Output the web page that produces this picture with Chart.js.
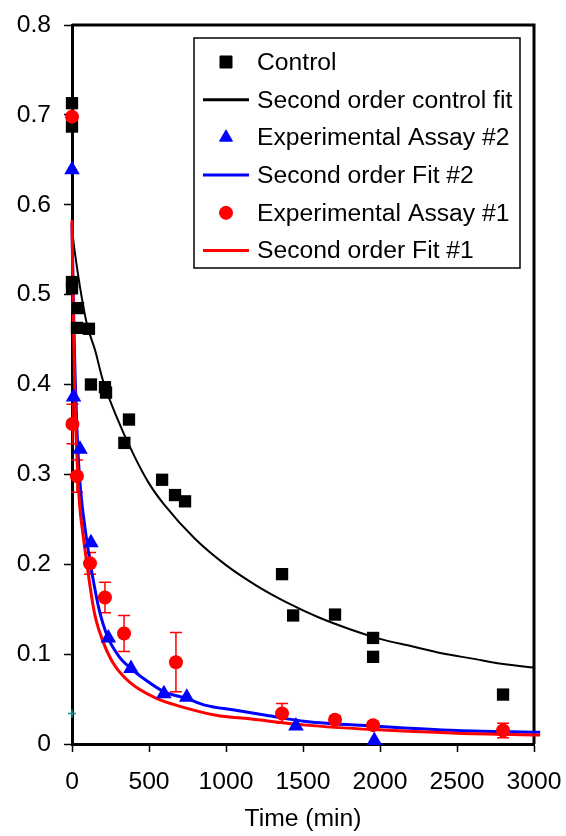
<!DOCTYPE html>
<html lang="en">
<head>
<meta charset="UTF-8">
<title>Second order fits</title>
<script src="https://cdn.jsdelivr.net/npm/chart.js"></script>
<style>
    html, body { margin: 0; padding: 0; background: #fff; }
    #wrap { position: relative; width: 566px; height: 836px; }
</style>
</head>
<body>
<div id="wrap"><canvas id="chart" width="566" height="836"></canvas></div>
<script>
// values
const xTicks = [0, 500, 1000, 1500, 2000, 2500, 3000];
const xTickLabels = ['0', '500', '1000', '1500', '2000', '2500', '3000'];
const yTicks = [0, 0.1, 0.2, 0.3, 0.4, 0.5, 0.6, 0.7, 0.8];
const yTickLabels = ['0', '0.1', '0.2', '0.3', '0.4', '0.5', '0.6', '0.7', '0.8'];

const controlX = [0, 0, 0, 0, 39, 32, 110, 123, 214, 221, 370, 340, 585, 669, 734, 1364, 1436, 1708, 1955, 1955, 2799];
const controlY = [0.713, 0.687, 0.514, 0.507, 0.485, 0.463, 0.462, 0.400, 0.397, 0.391, 0.361, 0.335, 0.294, 0.277, 0.270, 0.189, 0.143, 0.144, 0.118, 0.097, 0.055];

const controlFitX = [0, 20, 65, 100, 150, 200, 280, 400, 500, 600, 800, 1000, 1200, 1400, 1600, 1800, 2000, 2200, 2400, 2600, 2800, 3000, 3050];
const controlFitY = [0.572, 0.545, 0.495, 0.465, 0.438, 0.405, 0.368, 0.322, 0.290, 0.266, 0.228, 0.199, 0.176, 0.157, 0.141, 0.128, 0.117, 0.109, 0.101, 0.095, 0.089, 0.085, 0.084];

const assay2X = [0, 10, 52, 123, 236, 383, 597, 745, 1454, 1963];
const assay2Y = [0.639, 0.386, 0.328, 0.224, 0.118, 0.084, 0.056, 0.052, 0.020, 0.004];

const fit2X = [0, 10, 20, 32, 52, 97, 134, 177, 232, 307, 383, 481, 600, 740, 870, 1043, 1260, 1520, 1955, 2500, 3040];
const fit2Y = [0.58, 0.48, 0.41, 0.35, 0.29, 0.225, 0.186, 0.149, 0.119, 0.097, 0.084, 0.071, 0.058, 0.051, 0.043, 0.038, 0.032, 0.025, 0.020, 0.015, 0.013];

const assay1X = [0, 3, 32, 117, 214, 338, 675, 1364, 1708, 1955, 2799];
const assay1Y = [0.698, 0.356, 0.298, 0.201, 0.163, 0.123, 0.091, 0.034, 0.027, 0.021, 0.015];
const assay1Err = [0.015, 0.022, 0.018, 0.012, 0.017, 0.020, 0.033, 0.011, 0.004, 0.003, 0.008];

const fit1X = [0, 10, 20, 32, 50, 70, 97, 134, 156, 199, 264, 372, 545, 719, 935, 1151, 1520, 1955, 2500, 3040];
const fit1Y = [0.583, 0.46, 0.38, 0.32, 0.265, 0.235, 0.20, 0.157, 0.138, 0.115, 0.091, 0.069, 0.051, 0.041, 0.032, 0.028, 0.021, 0.016, 0.012, 0.010];

const strayX = [0];
const strayY = [0.034];

function pts(xs, ys) {
    return xs.map((x, i) => ({ x: x, y: ys[i] }));
}

const FONT = 'Liberation Sans, Arial, sans-serif';

// error bars for assay #1, drawn with the chart's own scales
const errorBars = {
    id: 'errorBars',
    beforeDatasetsDraw(chart) {
        const ctx = chart.ctx, xs = chart.scales.x, ys = chart.scales.y;
        ctx.save();
        ctx.strokeStyle = '#ff0000';
        ctx.lineWidth = 1.5;
        assay1X.forEach((x, i) => {
            const px = xs.getPixelForValue(x);
            const top = ys.getPixelForValue(assay1Y[i] + assay1Err[i]);
            const bot = ys.getPixelForValue(assay1Y[i] - assay1Err[i]);
            ctx.beginPath();
            ctx.moveTo(px, top); ctx.lineTo(px, bot);
            ctx.moveTo(px - 6, top); ctx.lineTo(px + 6, top);
            ctx.moveTo(px - 6, bot); ctx.lineTo(px + 6, bot);
            ctx.stroke();
        });
        ctx.restore();
    }
};

// top and right edges of the plot box
const frame = {
    id: 'frame',
    beforeDatasetsDraw(chart) {
        const a = chart.chartArea, ctx = chart.ctx;
        ctx.save();
        ctx.strokeStyle = '#000';
        ctx.lineWidth = 3;
        ctx.beginPath();
        ctx.moveTo(a.left, a.top);
        ctx.lineTo(a.right, a.top);
        ctx.lineTo(a.right, a.bottom);
        ctx.stroke();
        ctx.restore();
    }
};

// boxed legend inside the plot, like the original
const legendOrder = [3, 0, 4, 1, 5, 2];
const boxLegend = {
    id: 'boxLegend',
    afterDraw(chart) {
        const ctx = chart.ctx;
        const bx = 194, by = 38, bw = 326, bh = 230;
        ctx.save();
        ctx.fillStyle = '#fff';
        ctx.fillRect(bx, by, bw, bh);
        ctx.strokeStyle = '#000';
        ctx.lineWidth = 1.5;
        ctx.strokeRect(bx, by, bw, bh);
        ctx.font = '24.7px ' + FONT;
        ctx.textBaseline = 'middle';
        legendOrder.forEach((di, row) => {
            const ds = chart.data.datasets[di];
            const y = 62 + row * 37.7;
            if (ds.showLine) {
                ctx.strokeStyle = ds.borderColor;
                ctx.lineWidth = 3;
                ctx.beginPath();
                ctx.moveTo(203, y); ctx.lineTo(249, y);
                ctx.stroke();
            } else {
                ctx.fillStyle = ds.backgroundColor;
                ctx.strokeStyle = ds.borderColor;
                ctx.lineWidth = 1;
                Chart.helpers.drawPoint(ctx, { pointStyle: ds.pointStyle, radius: ds.legendRadius, borderWidth: 1 }, 226, y);
            }
            ctx.fillStyle = '#000';
            ctx.fillText(ds.label, 257, y + 1);
        });
        ctx.restore();
    }
};

new Chart(document.getElementById('chart'), {
    type: 'scatter',
    data: {
        datasets: [
            { label: 'Second order control fit', data: pts(controlFitX, controlFitY), showLine: true, cubicInterpolationMode: 'monotone', borderColor: '#000', borderWidth: 2, pointRadius: 0, clip: false, order: 6 },
            { label: 'Second order Fit #2', data: pts(fit2X, fit2Y), showLine: true, cubicInterpolationMode: 'monotone', borderColor: '#0000ff', borderWidth: 3, pointRadius: 0, clip: false, order: 5 },
            { label: 'Second order Fit #1', data: pts(fit1X, fit1Y), showLine: true, cubicInterpolationMode: 'monotone', borderColor: '#ff0000', borderWidth: 3, pointRadius: 0, clip: false, order: 4 },
            { label: 'Control', data: pts(controlX, controlY), showLine: false, pointStyle: 'rect', pointRadius: 8.7, legendRadius: 8.5, backgroundColor: '#000', borderColor: '#000', borderWidth: 0, clip: false, order: 3 },
            { label: 'Experimental Assay #2', data: pts(assay2X, assay2Y), showLine: false, pointStyle: 'triangle', pointRadius: 9, legendRadius: 7.5, backgroundColor: '#0000ff', borderColor: '#0000ff', borderWidth: 0, clip: false, order: 2 },
            { label: 'Experimental Assay #1', data: pts(assay1X, assay1Y), showLine: false, pointStyle: 'circle', pointRadius: 7, legendRadius: 6.5, backgroundColor: '#ff0000', borderColor: '#ff0000', borderWidth: 0, clip: false, order: 1 },
            { label: '', data: pts(strayX, strayY), showLine: false, pointStyle: 'cross', pointRadius: 4, borderColor: '#1a8f8f', borderWidth: 1.5, clip: false, order: 0 }
        ]
    },
    options: {
        responsive: false,
        animation: false,
        devicePixelRatio: 1,
        layout: { padding: { top: 25, right: 32, left: 0, bottom: 0 } },
        plugins: { legend: { display: false }, tooltip: { enabled: false } },
        scales: {
            x: {
                type: 'linear', min: 0, max: 3000,
                afterBuildTicks: s => { s.ticks = xTicks.map(v => ({ value: v })); },
                afterFit: s => { s.height = 92; s.paddingLeft = 0; s.paddingRight = 0; },
                ticks: { callback: (v, i) => xTickLabels[i], color: '#000', font: { family: FONT, size: 24.7 }, padding: 15, maxRotation: 0 },
                grid: { drawOnChartArea: false, tickLength: 8, color: '#000', tickWidth: 1.5 },
                border: { display: true, color: '#000', width: 3 },
                title: { display: true, text: 'Time (min)', color: '#000', font: { family: FONT, size: 24.7 }, padding: { top: 0, bottom: 2 } }
            },
            y: {
                type: 'linear', min: 0, max: 0.8,
                afterBuildTicks: s => { s.ticks = yTicks.map(v => ({ value: v })); },
                afterFit: s => { s.width = 72; s.paddingTop = 0; s.paddingBottom = 0; },
                ticks: { callback: (v, i) => yTickLabels[i], color: '#000', font: { family: FONT, size: 24.7 }, padding: 13 },
                grid: { drawOnChartArea: false, tickLength: 8, color: '#000', tickWidth: 1.5 },
                border: { display: true, color: '#000', width: 3 }
            }
        }
    },
    plugins: [errorBars, frame, boxLegend]
});
</script>
</body>
</html>
